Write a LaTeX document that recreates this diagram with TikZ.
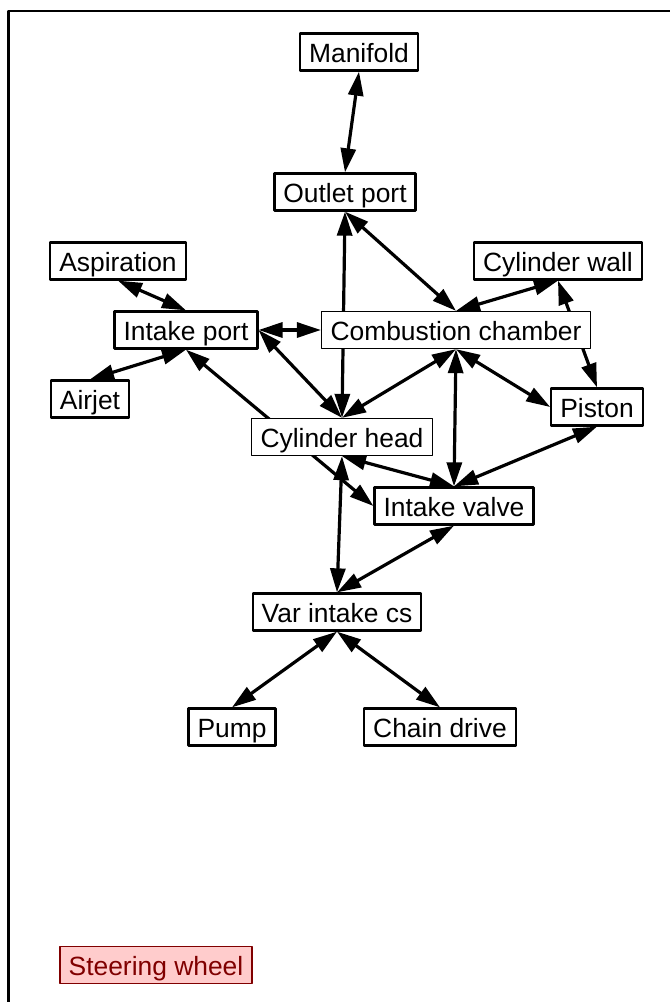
\documentclass[tikz,border=0pt]{standalone}
\usepackage{fontspec}
\setmainfont{Liberation Sans}
\usetikzlibrary{arrows.meta,backgrounds}
\begin{document}
\begin{tikzpicture}[x=0.5pt, y=-0.5pt, font=\fontsize{13.2}{15}\selectfont, line join=round,
		>={Triangle[length=12pt,width=7.5pt]},
		part/.style={draw, line width=1.15pt, fill=white, inner xsep=4.5pt, inner ysep=0pt,
			text height=10.6pt, text depth=0.4pt, minimum height=18.5pt},
		core/.style={part, line width=0.65pt},
		lonely/.style={part, draw=red!50!black, fill=red!20, text=red!50!black, line width=0.9pt},
		link/.style={<->, line width=1.6pt}]
	\useasboundingbox (0,0) rectangle (670,1002);
	% frame
	\draw[line width=1.2pt] (8.5,1002) |- (670,11);
	% parts
	\node[part] (manifold) at (359,52) {Manifold};
	\node[part] (outlet) at (345,192) {Outlet port};
	\node[part] (aspir) at (118,261) {Aspiration};
	\node[part] (cwall) at (558,261) {Cylinder wall};
	\node[part] (iport) at (186,330) {Intake port};
	\node[core] (comb) at (456,330) {Combustion chamber};
	\node[part] (airjet) at (90,399) {Airjet};
	\node[part] (piston) at (597,407) {Piston};
	\node[core] (chead) at (342,437) {Cylinder head};
	\node[part] (ivalve) at (454,506) {Intake valve};
	\node[part] (varcs) at (337,612) {Var intake cs};
	\node[part] (pump) at (232,727) {Pump};
	\node[part] (chain) at (440,727) {Chain drive};
	\node[lonely] (steer) at (156,965) {Steering wheel};
	% links, kept under the boxes
	\begin{scope}[on background layer]
		\draw[link] (manifold.south) -- (outlet.north);
		\draw[link] (outlet.south) -- (chead.north);
		\draw[link] (outlet.south) -- (comb.north);
		\draw[link] (aspir.south) -- (iport.north);
		\draw[link] (airjet.north) -- (iport.south);
		\draw[link] (iport.east) -- (comb.west);
		\draw[link] (iport.south) -- (ivalve.west);
		\draw[link] (iport.east) -- (chead.north);
		\draw[link] (cwall.south) -- (comb.north);
		\draw[link] (cwall.south) -- (piston.north);
		\draw[link] (comb.south) -- (chead.north);
		\draw[link] (comb.south) -- (ivalve.north);
		\draw[link] (comb.south) -- (piston.west);
		\draw[link] (piston.south) -- (ivalve.north);
		\draw[link] (chead.south) -- (ivalve.north);
		\draw[link] (chead.south) -- (varcs.north);
		\draw[link] (ivalve.south) -- (varcs.north);
		\draw[link] (varcs.south) -- (pump.north);
		\draw[link] (varcs.south) -- (chain.north);
	\end{scope}
\end{tikzpicture}
\end{document}
